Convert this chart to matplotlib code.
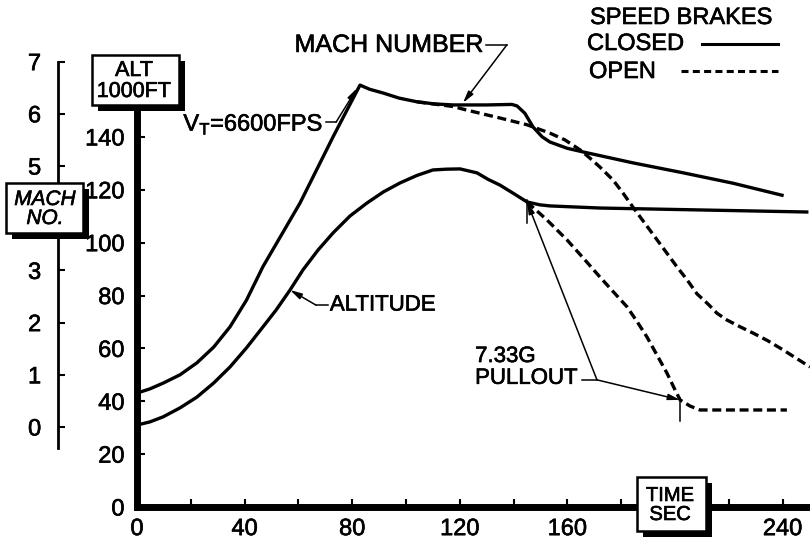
import matplotlib
matplotlib.use("Agg")
import matplotlib.pyplot as plt
import matplotlib.patheffects as pe
from matplotlib.patches import Rectangle
from matplotlib.lines import Line2D
from matplotlib.text import Text

W, H = 810, 539
FONT = ["Liberation Sans", "DejaVu Sans"]
plt.rcParams["font.family"] = FONT
plt.rcParams["mathtext.fontset"] = "custom"
plt.rcParams["mathtext.rm"] = "Liberation Sans"

# Mach number vs time, speed brakes closed
mach_closed_t = [0, 4.8, 9.7, 16, 22.3, 28.5, 34.6, 40.7, 46.8, 60.6, 72.9,
                 82.9, 86.5, 91.4, 97.5, 104.1, 110.5, 117.5, 130, 139.4, 141.3,
                 144.2, 147.2, 150.6, 153.5, 159.9, 165.8, 184.4, 203, 221.6,
                 239.8]
mach_closed = [0.65, 0.73, 0.84, 1.0, 1.23, 1.53, 1.92, 2.43, 3.07, 4.29, 5.56,
               6.55, 6.47, 6.40, 6.30, 6.23, 6.19, 6.17, 6.17, 6.18, 6.15,
               6.01, 5.75, 5.56, 5.46, 5.34, 5.27, 5.06, 4.87, 4.67,
               4.44]

# Mach number vs time, speed brakes open
mach_open_t = [104.1, 117.5, 122.7, 134.9, 145.0, 153.5, 159.1, 164.7, 168.4,
               172.1, 177.0, 180.7, 184.4, 190.7, 197.0, 200.7, 204.5, 208.2,
               212.6, 215.6, 219.3, 224.2, 229.0, 234.6, 240.1, 245.0, 250.2]
mach_open = [6.23, 6.14, 6.07, 5.92, 5.79, 5.63, 5.50, 5.31, 5.15,
             4.98, 4.73, 4.48, 4.21, 3.77, 3.33, 3.07, 2.82, 2.55,
             2.34, 2.18, 2.05, 1.92, 1.80, 1.65, 1.48, 1.32, 1.15]

# Altitude (1000 ft) vs time, speed brakes closed
alt_closed_t = [0, 4.8, 9.7, 16, 22.3, 28.5, 34.6, 40.7, 46.8, 51.7, 56.9,
                61.7, 67.3, 72.9, 79.2, 85.5, 91.6, 97.8, 104, 110, 115,
                120.1, 126.4, 130.6, 134.9, 140, 145, 149.8, 153.5, 172.1, 249]
alt_closed = [31.0, 32.2, 34.1, 37.5, 41.6, 46.9, 53.0, 60.2, 68.1, 74.5, 82.1,
              89.7, 97.2, 103.7, 110.1, 115.0, 119.2, 122.6, 125.4, 127.5, 127.8,
              127.9, 126.4, 123.9, 121.8, 118.6, 115.4, 114.3, 113.9, 113.1, 111.6]

# Altitude (1000 ft) vs time, speed brakes open
alt_open_t = [145, 152.4, 159.9, 165.9, 172.1, 177.0, 182.2, 186.0, 189.6,
              193.3, 197, 199.6, 201.9, 205.6, 209.3, 241.6]
alt_open = [115.4, 108.6, 101.0, 94.2, 87.0, 81.5, 75.7, 70.0, 64.3,
            57.5, 50.7, 45.2, 40.5, 38.2, 36.7, 36.7]

# pullout points (index into the altitude series)
PULL_CLOSED = alt_closed_t.index(145)
PULL_OPEN = alt_open_t.index(201.9)
ALT_LABEL_PT = alt_closed_t.index(56.9)

alt_ticks = [0, 20, 40, 60, 80, 100, 120, 140]
mach_ticks = [0, 1, 2, 3, 4, 5, 6, 7]
mach_labels = ["0", "1", "2", "3", "", "5", "6", "7"]      # 4 sits behind the title box
time_ticks = [0, 40, 80, 120, 160, 200, 240]
time_labels = ["0", "40", "80", "120", "160", "", "240"]   # 200 sits behind the title box
time_minor = [20, 60, 100, 140, 180, 220]


def fx(x):
    return x / W


def fy(y):
    return 1 - y / H


fig = plt.figure(figsize=(W / 100, H / 100), dpi=100)
fig.patch.set_facecolor("white")

ax = fig.add_axes([fx(137), 32 / H, 1 - fx(137), (507 - 60) / H])
ax.set_xlim(0, 250.2)
ax.set_ylim(0, 169.1)
ax.set_facecolor("none")

ax2 = ax.twinx()
ax2.set_ylim(-1.533, 7.031)
ax2.set_facecolor("none")

# curves
lw = 2.4
ax2.plot(mach_closed_t, mach_closed, color="black", lw=lw, solid_joinstyle="round")
ax2.plot(mach_open_t, mach_open, color="black", lw=lw, dashes=(2.7, 1.4))
ax.plot(alt_closed_t, alt_closed, color="black", lw=lw, solid_joinstyle="round")
ax.plot(alt_open_t, alt_open, color="black", lw=lw, dashes=(2.7, 1.4))

# axes styling
for s in ["top", "right"]:
    ax.spines[s].set_visible(False)
ax.spines["left"].set_linewidth(5)
ax.spines["bottom"].set_linewidth(5)
ax.spines["left"].set_bounds(0, 152)
ax.spines["bottom"].set_bounds(0, 250.2)

ax.set_yticks(alt_ticks)
ax.set_yticklabels([str(v) for v in alt_ticks])
ax.set_xticks(time_ticks)
ax.set_xticklabels(time_labels)
ax.set_xticks(time_minor, minor=True)
ax.tick_params(axis="y", direction="in", length=6, width=1.5, pad=9,
               labelsize=17)
ax.tick_params(axis="x", direction="in", length=6, width=1.5, pad=8,
               labelsize=17)
ax.tick_params(axis="x", which="minor", direction="in", length=6, width=1.5)

for s in ["top", "right", "bottom"]:
    ax2.spines[s].set_visible(False)
ax2.spines["left"].set_visible(True)
ax2.spines["left"].set_position(("outward", 57))
ax2.spines["left"].set_linewidth(2)
ax2.spines["left"].set_bounds(-0.4, 7.0)
ax2.yaxis.tick_left()
ax2.set_yticks(mach_ticks)
ax2.set_yticklabels(mach_labels)
ax2.tick_params(axis="y", direction="in", length=5, width=1.5, pad=12,
                labelsize=17)

# annotations
thin = dict(color="black", lw=1.1, clip_on=False)
arrow = dict(arrowstyle="-|>,head_length=0.7,head_width=0.18", color="black",
             lw=1.1, shrinkA=0, shrinkB=0)

# Mach number label
ax2.text(128.6, 7.32, "MACH NUMBER", ha="right", va="center", fontsize=18,
         clip_on=False)
ax2.plot([129.7, 137.5], [7.32, 7.32], **thin)
ax2.annotate("", xy=(121.2, 6.21), xytext=(137.5, 7.32), arrowprops=arrow,
             annotation_clip=False)

# peak velocity label
ax2.text(69.3, 5.80, r"V$_{\mathrm{T}}$=6600FPS", ha="right", va="center",
         fontsize=17, clip_on=False)
ax2.plot([70.3, 74.0], [5.84, 5.84], **thin)
ax2.annotate("", xy=(81.8, 6.49), xytext=(74.0, 5.84), arrowprops=arrow,
             annotation_clip=False)

# altitude label
ax.text(71.7, 76.4, "ALTITUDE", ha="left", va="center", fontsize=16)
ax.plot([71.0, 66.5], [76.4, 76.4], **thin)
ax.annotate("", xy=(alt_closed_t[ALT_LABEL_PT], alt_closed[ALT_LABEL_PT]),
            xytext=(66.5, 76.4), arrowprops=arrow)

# pullout label
ax.text(125.7, 52.8, "7.33G\nPULLOUT", ha="left", va="center", fontsize=16,
        linespacing=1.05)
ax.plot([165.4, 171.0], [48.1, 48.1], **thin)
for tt, aa in [(alt_closed_t[PULL_CLOSED], alt_closed[PULL_CLOSED]),
               (alt_open_t[PULL_OPEN], alt_open[PULL_OPEN])]:
    ax.annotate("", xy=(tt, aa), xytext=(171.0, 48.1), arrowprops=arrow)
    ax.plot([tt, tt], [aa + 0.8, aa - 7.8], **thin)


# boxed axis titles with drop shadows
def shadow_box(x0, y0, x1, y1, label, cx, cy, size, style="normal"):
    fig.add_artist(Rectangle((fx(x0 + 6), fy(y1 + 6)), fx(x1 - x0), (y1 - y0) / H,
                             facecolor="black", edgecolor="black", lw=0,
                             zorder=20, transform=fig.transFigure))
    fig.add_artist(Rectangle((fx(x0), fy(y1)), fx(x1 - x0), (y1 - y0) / H,
                             facecolor="white", edgecolor="black", lw=1.8,
                             zorder=21, transform=fig.transFigure))
    fig.text(fx(cx), fy(cy), label, ha="center", va="center", fontsize=size,
             style=style, zorder=22, linespacing=1.0, multialignment="center")


shadow_box(92, 55, 179, 105, "ALT\n1000FT", 134, 81, 15.5)
shadow_box(6, 183, 83, 233, "MACH\nNO.", 45, 209, 15, style="italic")
shadow_box(637, 477, 706, 531, "TIME\nSEC", 670, 505, 14.5)

# speed-brake key
fig.text(fx(590), fy(18), "SPEED BRAKES", ha="left", va="center", fontsize=17)
fig.text(fx(587), fy(44), "CLOSED", ha="left", va="center", fontsize=17)
fig.text(fx(589), fy(72), "OPEN", ha="left", va="center", fontsize=17)
fig.add_artist(Line2D([fx(702), fx(778)], [fy(44), fy(44)], color="black",
                      lw=2.2, transform=fig.transFigure))
fig.add_artist(Line2D([fx(681), fx(778)], [fy(71), fy(71)], color="black",
                      lw=2.2, dashes=(2.3, 1.4), transform=fig.transFigure))

# slightly heavier pen stroke for all lettering
for t in fig.findobj(Text):
    if t.get_text():
        t.set_path_effects([pe.withStroke(linewidth=0.45, foreground="black")])

fig.savefig("out.png", dpi=100, facecolor="white")
